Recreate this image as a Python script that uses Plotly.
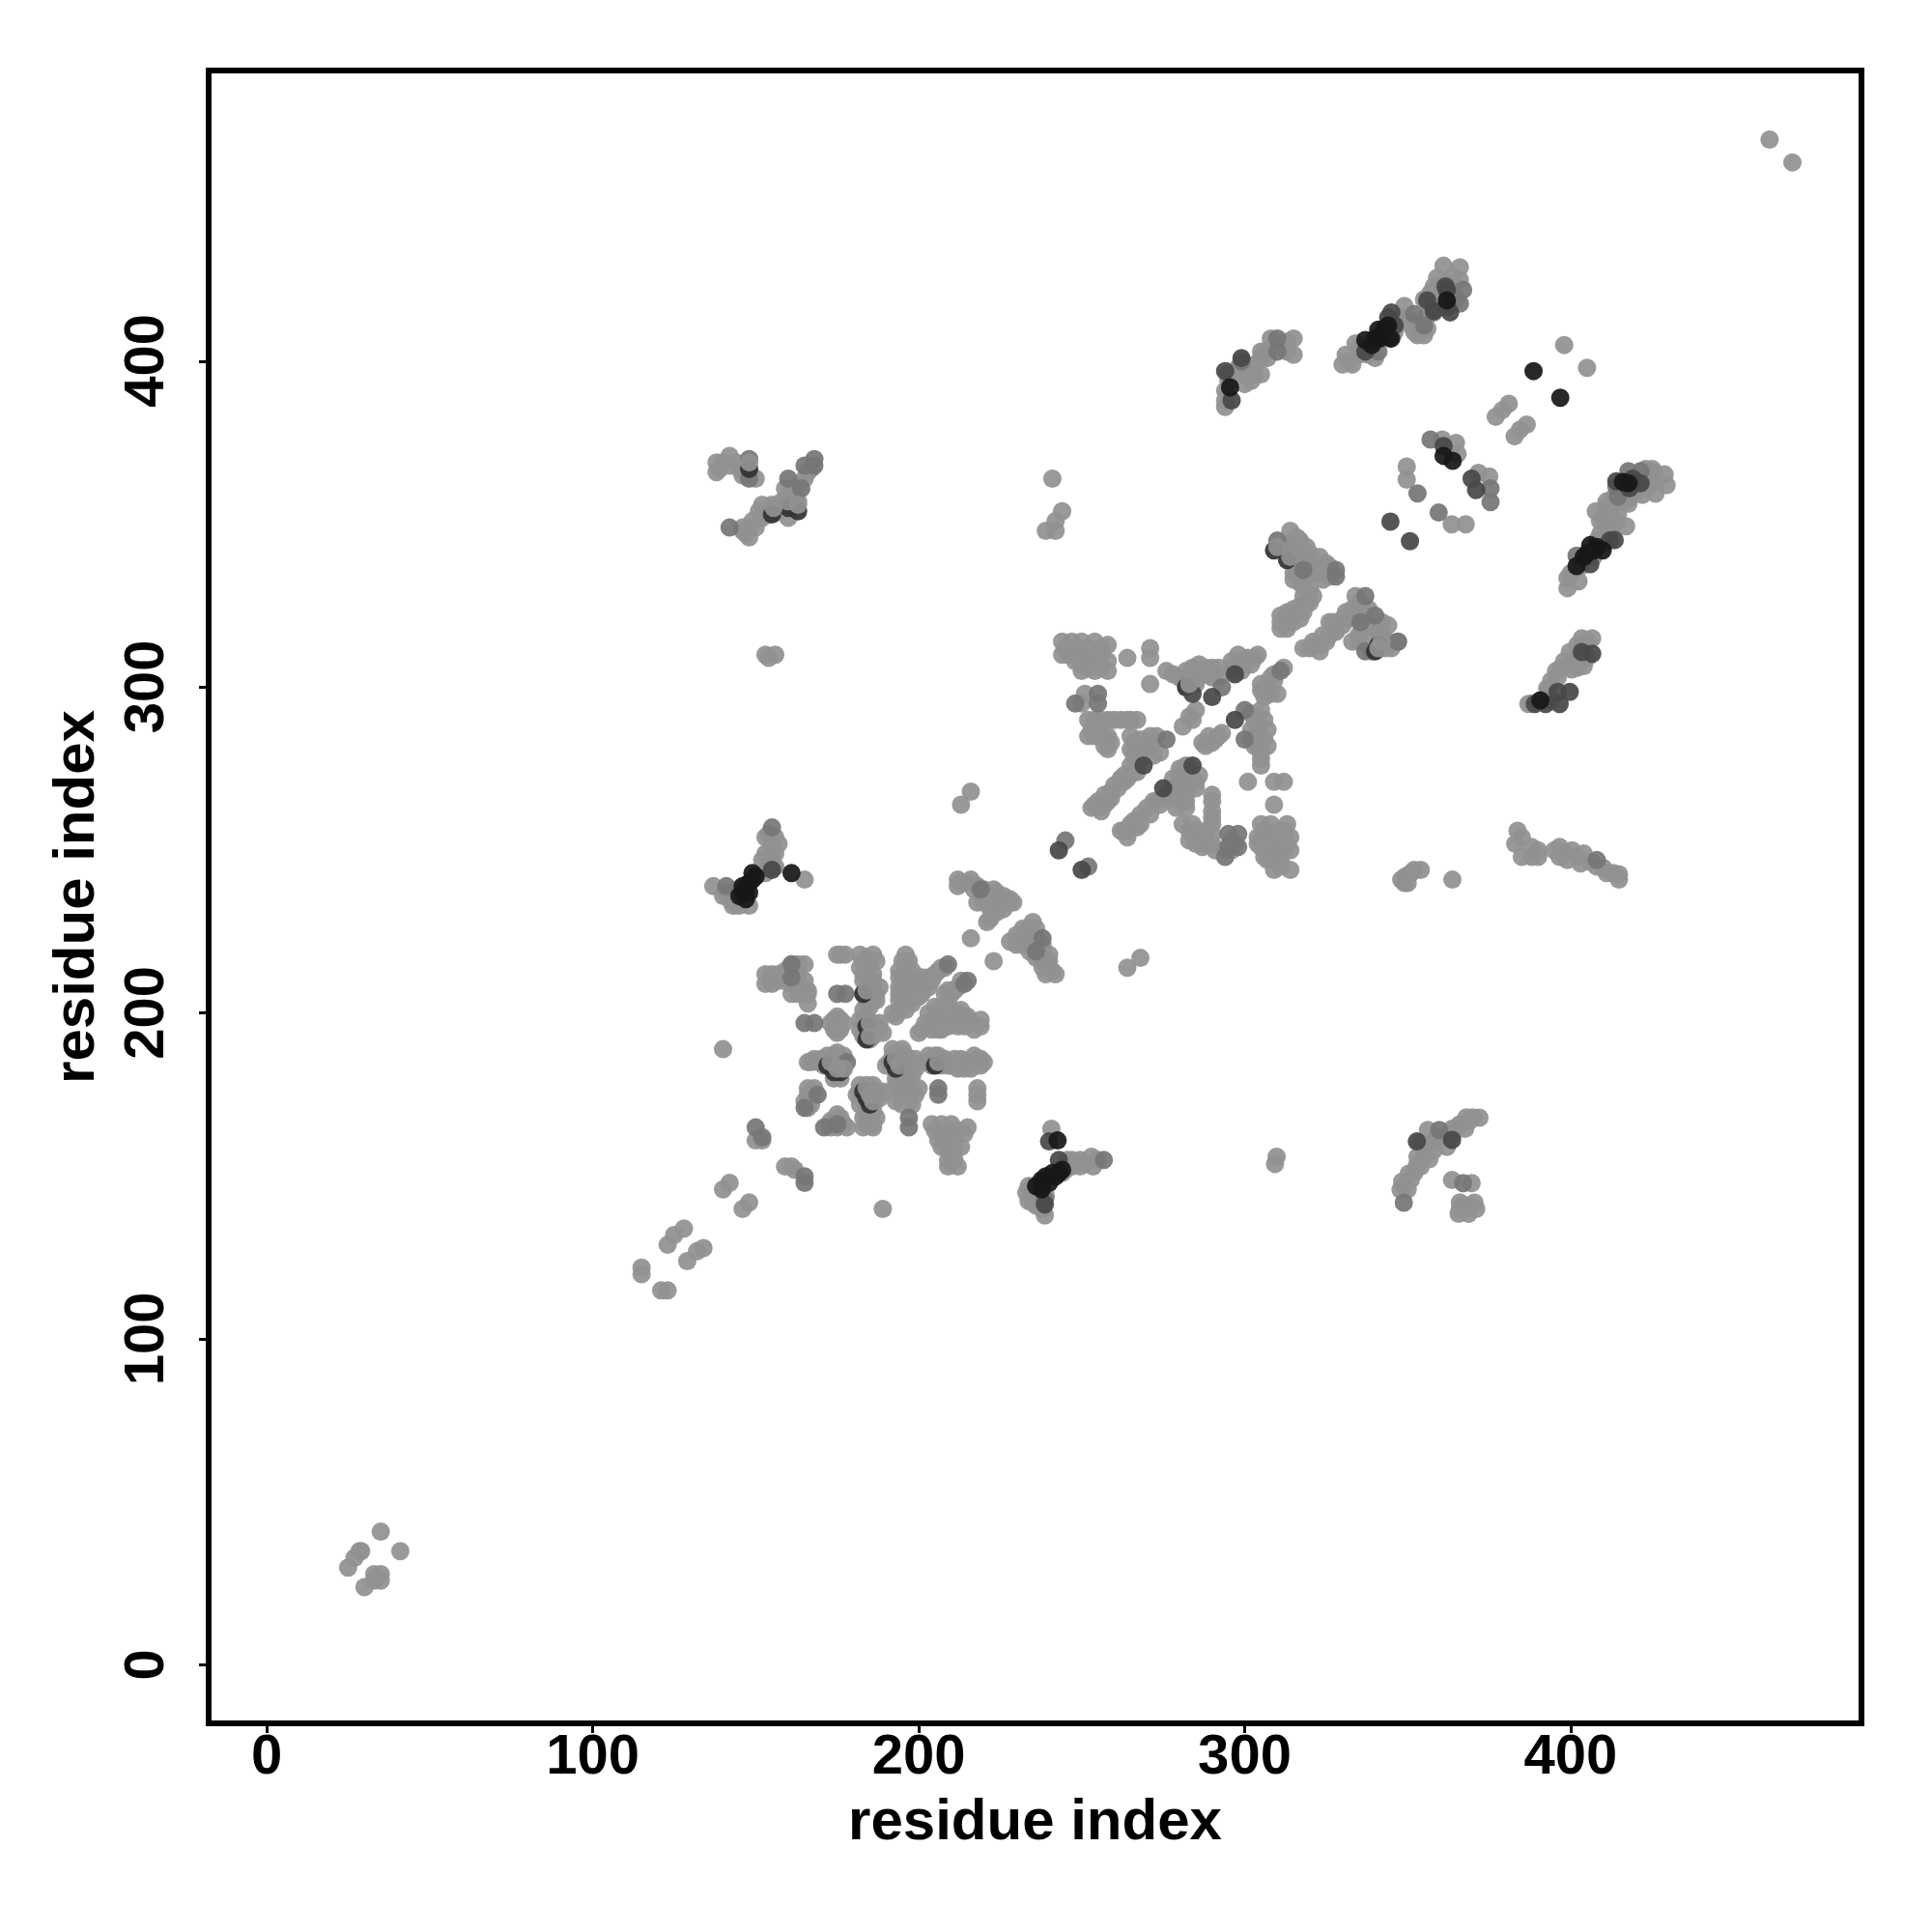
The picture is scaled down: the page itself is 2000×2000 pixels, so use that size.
import plotly.graph_objects as go

tick_values = [0, 100, 200, 300, 400]
axis_title = "residue index"

# residue pairs, grouped by shade of grey
under_dark = [
    (183,206),(184,196),(184,192),(172,184),(174,182),(176,182),(192,185),(193,183),(205,184),
    (183,176),(184,174),(185,172),(186,174),(309,342),(313,339),(340,311),(341,313),
    (155,353),(148,367),(160,355),(163,354),(282,300),
]
top_light = [
    (184,207),(185,197),(185,193),(173,185),(175,183),(177,183),(193,186),(194,184),(206,185),
    (184,177),(185,175),(186,173),(187,175),(310,343),(314,340),(341,312),(342,314),
    (155.5,355),(148,369),(160,357),(163,356),(283,301),
]
light = [
    (25,30),(27,33),(28.5,35),(29,35),(35,41),(41,35),(30,24),(33,26),(34,27),(35,28),(33,28),(35,26),
    (115,122),(115,120),(121,115),(123,115),(123,129),(125,132),(128,134),(129,124),(132,127),(134,128),
    (140,146),(142,148),(146,140),(148,142),(189,140),(140,189),
    (153,212),(153,209),(156,210),(158,210),(160,211),(161,215),(161,212),(161,209),(161,206),(165,215),
    (165,210),(166,207),(166,206),(166,203),
    (175,218),(177.5,218),(182,214),(184,217),(186,218),(182,218),(185,211),(184,208),(187,206),(184,203),(186,204),
    (196,218),(196,215),(195,212),(195,209),(196,206),(195,202),(193,199),(201,211),(203,211),(206,213),(199,208),(198,205),
    (174,198),(176,198),(174,195),(176,195),(182,198),(182,195),(185,192),(188,195),(185,195),
    (166,185),(169,185),(172,187),(175,188),(175,183),(175,181),(173,184),
    (166,177),(165,173),(175,169),(177,166),
    (181,175),(184,178),(183,174),(188,174),(189,176),(186,172),(184,166),(184,169),(186,166),
    (194,175),(197,175),(199,175),(197,178),(197,173),(218,177),(218,173),
    (191,185),(194,188),(193,185),(198,185),(196,187),(193,182),(198,181),
    (205,187),(204,184),(208,186),(211,186),(214,183),(218,186),(219,184),(202,185),
    (200,194),(204,198),(206,200),(209,204),(211,207),(204,195),(209,196),(213,198),(219,198),(219,196),(216,197),(207,202),(213,201),
    (204,166),(207,166),(210,166),(215,165),(206,161),(209,158),(209,153),(212,153),(209,155),
    (212,241),(212,239),(215,240),(218,239),(223,238),(228,235),(228,234),(221,228),(224,231),(220,234),(218,234),(216,223),(223,216),
    (235,228),(233,225),(228,222),(236,219),(240,218),(234,219),(238,214),(242,212),(231,222),(234,223),
    (150,161),(152,161),(159,153),(161,153),(162,152),
    (138,369),(138,366),(142,371),(142,368),(150,364),(146,348),(148,349),(149,351),(151,354),(155,356),(165,364),(160,359),(163,357),(148,346),
    (153,310),(156,310),(154,309),(241,364),(244,354),(242,351),(239,348),(242,348),
    (216,268),(213,264),(264,214),(268,217),
    (137,239),(142,235),(146,235),(153,254),(156,254),(153,249),(156,249),(165,241),
    (244,314),(244,310),(247,314),(250,314),(254,314),(258,313),(246,310),(250,310),(254,310),(258,308),(250,305),(254,305),(258,305),(255,308),(250,307),
    (264,309),(271,312),(271,309),(271,301),(276,305),(280,303),(284,306),(284,303),(290,306),(290,303),(298,310),(298,307),(300,307),(303,309),
    (285,293),(283,291),(281,288),(284,290),(251,298),(250,295),
    (252,290),(256,290),(262,290),(267,290),(264,290),(252,285),(256,285),(258,285),(258,281),(258,284),
    (265,285),(265,281),(271,285),(270,281),(274,280),(267,281),(265,276),(267,274),(264,272),(260,270),(257,267),(254,264),(256,262),(258,265),
    (280,275),(280,273),(285,271),(280,268),(280,265),(275,266),(270,263),(266,259),(262,256),(264,254),(267,257),
    (290,267),(290,262),(290,258),(290,252),(285,252),(284,255),(281,258),(284,258),
    (305,258),(305,251),(308,258),(313,258),(314,254),(314,250),(314,244),(309,244),(309,248),(308,253),(304,254),
    (301,271),(309,271),(312,271),(309,264),(305,276),(306,284),(305,280),(306,290),(305,293),(303,290),
    (290,283),(293,286),(288,282),(308,303),(306,300),(310,298),(307,298),
    (314,348),(315,344),(319,343),(315,339),(319,339),(315,333),(323,340),(323,337),(318,336),(324,333),
    (318,328),(321,328),(315,322),(311,322),(311,318),(315,324),
    (334,328),(330,321),(326,320),(321,314),(318,312),(323,311),(333,324),(333,314),(344,319),(341,318),(347,314),
    (330,399),(333,399),(334,405.5),(349,417),(348,413.4),(355,408),(353,408),(361,429.3),(366,428.8),(366,425),(359,425.6),(355,419),(359,418),
    (305,396),(306,403),(308,407),(315,407),(315,402),(305,401),(300,396),(300,393),(294,386),
    (398,405),(405,398),(381,387),(379,385),(377,383),(386.5,380.6),(384.4,379),(382.8,377),
    (349.7,367.7),(349.7,363.7),(363.5,350),(367.8,350),(364.8,375),(365.3,371.6),(360.6,376),(371.7,365.8),(375,364.7),
    (399,330.4),(399,333.5),(402.4,332.5),(417,349.4),(411,349.4),(407.7,354),(411,355.2),(414.5,353),(425.7,365.8),(428.8,365.3),(429.4,362),(426,359.4),(422,359),(417.7,356.3),
    (387,294.9),(392.8,299.7),(395.5,305),(399.7,310.8),(403.4,315),(406.6,315),(404,306.5),(400.3,305.5),
    (240.7,164.6),(245.6,155),(249.5,155),(249.5,153),(253,156),(253.5,153),
    (233.7,147),(233.7,142.4),(238.7,138),(235,144),
    (309.8,156),(309.3,153.8),
    (348.3,148.4),(347.8,145.9),(350.3,150.8),(352.8,153.3),(356.2,164.2),(356.7,155.3),(354,160.2),(363.6,164.6),(367.6,164.6),(370,168.1),(368,168.1),
    (363.6,148.9),(369.6,147.9),(370.5,141.9),(366,142),(365.6,138.5),(368.6,138.5),
    (383.7,256),(383,252),(388,251),(388,248),(396.6,251),(396.6,248),(400.4,250),(402,248),(406,246.5),(410,244.6),(414.8,242.7),(414.8,241),
    (348,241),(349.3,242),(351,243),(354,244),(363.7,241),(461,468),(468,461),
]
light_block_a = [
    (155,212),(157,212),(159,213),(163,215),(163,212),(163,209),(155,209),(158,212),(163,206),
    (176,218),(183,216),(185,216),(187,216),(183,212),(186,212),(183,210),(186,210),(186,208),(188,208),(183,206),(185,206),(185,204),(187,204),(185,202),(183,201),
    (195,216),(197,216),(194,213),(196,213),(198,213),(194,211),(196,211),(198,211),(194,208),(196,208),(198,208),(200,208),(194,206),(198,206),(194,204),(196,204),(198,203),(194,201),(196,201),(192,200),(200,209),(202,209),(204,210),(205,212),(207,214),(208,214),(203,208),(201,206),(200,205),
    (173,197),(177,197),(175,199),(175,194),(175,196),(183,197),(184,199),(186,197),(187,196),(186,193),(184,193),(183,193),(188,197),(189,194),
    (167,185),(168,186),(170,186),(171,184),(173,186),(174,187),(176,186),(177,187),(177,183),(176,184),(174,180),(176,180),(171,186),
    (166,175),(167,175),(168,177),(166,171),(167,172),(173,167),(174,167),(176,168),(173,165),(175,165),(178,165),
    (182,178),(186,178),(182,176),(185,176),(187,176),(188,176),(182,172),(184,171),(186,170),(183,168),(185,168),(187,168),(183,165),(186,165),(185,174),
    (194,177),(196,177),(198,177),(195,172),(198,172),(193,178),(193,173),(200,177),(196,174),(218,175),
    (190,184),(192,187),(192,189),(194,186),(195,184),(197,183),(199,183),(199,186),(195,189),(193,180),(195,180),(197,180),(196,182),
    (203,187),(206,187),(207,184),(209,184),(206,185),(210,184),(212,184),(213,186),(215,185),(216,183),(217,187),(219,186),(220,185),(212,183),
    (201,195),(202,197),(203,200),(205,202),(208,206),(209,207),(210,206),(212,208),(213,210),(203,196),(205,196),(206,197),(207,198),(208,199),(210,198),(211,199),(212,200),(214,199),(215,199),(217,195),(214,196),(212,196),(207,195),(206,195),(210,201),(208,201),
    (205,164),(209,164),(212,164),(214,163),(208,162),(211,162),(213,159),(207,159),(210,157),(208,160),(211,159),(210,154),(211,155),
    (213,240),(216,241),(217,238),(220,238),(222,236),(224,237),(226,236),(226,234),(226,232),(222,232),(224,234),(222,229),(220,236),(221,236),(229,234),
    (232,226),(230,224),(234,226),(236,226),(230,221),(232,221),(235,222),(236,224),(232,223),(238,221),(236,217),(238,219),(240,216),(238,216),(240,214),(241,213),(239,212),(234,221),
]
light_block_b = [
    (245,312),(249,312),(252,312),(256,312),(248,308),(252,308),(256,310),(252,306),(256,306),(249,309),
    (278,304),(282,305),(282,302),(286,307),(287,305),(288,304),(292,303),(285,301),(284,301),(286,304),(288,306),(292,306),(299,308),(296,306),(296,308),(297,305),(301,309),(302,307),(304,310),(299,305),
    (254,290),(258,290),(260,290),(265,290),(253,287),(254,285),(259,283),(257,282),(266,283),(268,284),(269,282),(272,283),(273,285),(266,279),(272,279),(268,278),
    (262,272),(259,268),(261,269),(263,271),(255,265),(253,263),(255,263),(257,264),(259,266),(266,274),(263,273),
    (282,276),(283,274),(278,272),(282,270),(283,272),(277,268),(278,266),(273,265),(272,265),(268,261),(265,258),(263,256),(264,256),(268,258),(271,261),(274,264),(278,269),(276,267),(281,270),(283,270),(286,273),(285,269),(282,267),(282,265),(282,263),(279,263),
    (290,265),(290,260),(290,255),(288,252),(287,251),(291,250),(286,254),(283,256),(285,256),(288,256),(283,253),
    (296,253),(297,252),(294,250),(296,250),
    (306,256),(306,254),(310,256),(312,256),(304,252),(307,250),(311,252),(312,250),(311,247),(307,247),(311,245),(310,250),(306,248),(306,252),(313,252),
    (304,291),(302,292),(304,288),(307,287),(304,286),(302,287),(303,282),(302,284),(304,282),(307,282),(305,278),
    (289,285),(291,284),(292,285),(287,283),(309,304),(309,302),(308,298),(305,299),(306,297),(305,301),(312,306),
    (311,343),(313,344),(316,346),(317,342),(317,345),(314,341),(316,338),(318,341),(320,341),(321,338),(316,335),(320,336),(322,335),(319,334),(325,338),(326,336),(326,334),(326,337),(324,335),(317,332),(315,335),(318,331),
    (320,330),(319,326),(317,325),(317,323),(313,323),(313,321),(313,318),(315,320),(317,321),(311,320),(320,326),(318,323),
    (335,326),(336,325),(331,323),(332,321),(330,319),(328,318),(327,320),(324,316),(326,316),(323,313),(320,312),(322,313),(325,314),(328,317),(334,321),(335,321),(336,318),(335,316),(335,314),(338,319),(340,318),(342,316),(339,314),(339,311),(343,315),(345,312),(343,312),(342,320),(338,324),
]
light_block_c = [
    (294,388),(294,391),(295,394),(295,396),(298,398),(300,399),(302,394),(303,396),(303,399),(305,403),(308,404),(307,401),(313,406),(313,403),
    (332,400),(331,402),(335,402),(335,404),(338,402),(340,401),(346,409),(350,413),(351,411),(353,411),(352,409),(354,409),(356,410),(354,412),(356,414),(357,416),(358,418),(357,421),(359,422),(360,420),(362,424),(364,426),(358,423),(364,421),(365,419),(361,419),
    (400,335),(403,337),(404,339),(405,341),(407,340),(408,345),(410,344),(409,347),(411,346),(412,348),(413,350),(414,351),(410,352),(409,351),(412,351),(412,353),(413,356),(411,357),(413,358),(415,360),(416,357),(418,358),(420,360),(419,364),(423,361),(424,363),(426,363),(425,367),(423,367),
    (388,295),(391,296),(394,296),(393,299),(394,302),(396,303),(397,306),(398,308),(401,308),(402,313),(404,312),(405,314),(402,306),(403,308),(405,309),
    (233,145),(235,147),(236,141),(238,140),(239,144),(235,142),(237,144),(244,151),(245,152),(246,154),(247,155),(247,153),(251,154),(255,155),
    (349,147),(350,146),(351,149),(352,151),(354,153),(355,156),(353,156),(355,158),(357,160),(358,158),(359,162),(361,162),(362,159),(364,163),(365,165),(366,166),(369,167),(372,168),(367,141),(369,141),(366,140),(368,140),(371,140),
    (140,236),(143,236),(144,238),(141,237),(143,233),(145,233),(148,233),(144,234),(147,236),(155,251),(154,246),(157,252),(154,255),(155,247),(152,247),(153,243),(156,245),
    (146,349),(147,347),(150,349),(152,352),(154,353),(157,354),(158,356),(160,352),(161,356),(162,359),(158,357),(159,361),(163,362),(166,366),(167,367),(139,367),(140,369),(144,369),(145,367),(146,365),(152,356),
    (385,254),(385,248),(390,250),(390,248),(398,249),(399,247),(403,246),(404,249),(408,245),(411,243),(413,243),(395,250),(349,240),(350,240),(352,244),
]
mid = [
    (175,206),(177.5,206),(165,197),(168,197),(178,185),(169,175),(165,171),(171,165),(175,166),
    (206,177),(206,175),(197,168),(197,165),(209,215),(215,210),(214,209),(219,238),(238,223),(161,211),(161,215),(236,219),
    (150,165),(152,162),(165,150),(165,148),(148,370),(148,364),(142,349),(164,361),(165,368),(168,370),(168,368),(160,364),
    (141,239),(155,257),(245,253),(252,245),
    (293,300),(255,298),(255,295),(248,295),(276,284),(295,255),(298,255),(294,248),(298,251),(295,251),
    (300,293),(300,284),(311,305),(310,345),(328,336),(328,334),(335.5,320),(318,336),
    (337,328),(340,322),(337,311),(347,314),
    (341,403),(352,414.5),(355,411),(366,417.7),(367,421.9),(358,415),(310,403),(310,407),(299,400),
    (353,359.5),(359.5,353.6),(357,376),(375.4,361),(375.4,356.8),
    (401.8,340.4),(414,361.6),(414.5,358.4),(417.7,366.3),(421.4,366.3),(256.8,155),(238.7,143),
    (348.8,141.9),(359.7,164.2),(367,147.9),(408,247),
]
dark = [
    (284,298),(297,304),(290,297),(297,290),(275,269),(269,276),(284,276),(243,250),(250,244),
    (296,388),(294,397),(299,401),(344,413.4),(345,407),(362,416.6),(362,421.9),(363,415),(337,403),
    (345,415),(346,411),(361.6,423),(358,415.5),(356,418.7),
    (344.7,350.8),(350.7,344.8),(361,374),(369.6,364),(371,360.5),
    (406,337.8),(413.5,345.2),(421.4,362.6),(414,363.2),(412,345),(419,364),(418,361),
    (389,294.9),(392.3,294.9),(396.6,294.9),(396,298.6),(399.7,298.6),(403.4,310.8),(406.6,310.3),
    (240,160.7),(243,155),(238.7,141.4),(352.8,160.7),(363.6,161.2),(155,244),(147,239),
]
black = [
    (337,406.5),(339,405),(340,407),(341,409.7),(341.5,407),(342,408),(343,410),(344.7,407),(344,411),(388.6,397),(396.8,388.8),
    (295.5,392),(362,418.7),(390.7,296),
    (361,371),(363.8,369.5),(401.8,337.2),(404,340),(405,341),(406,343.6),(407,342),(408,343),(409.8,342),(417.7,362.6),(416,363),
    (242.6,161),(237.7,148.9),(239,150),(240,148),(241,151),(236,147),(237.7,146),(242,150),(244,152),(238,147),(243,151),
    (145,236),(146,237),(147,238),(148,240),(149,241),(150,242),(149,243),(161,243),(146,239),(147,235),(148,237),
]

layers = [
    ("light", light + light_block_a + light_block_b + light_block_c, "rgb(145,145,145)"),
    ("mid", mid, "rgb(118,118,118)"),
    ("under", under_dark, "rgb(50,50,50)"),
    ("dark", dark, "rgb(72,72,72)"),
    ("black", black, "rgb(24,24,24)"),
    ("top", top_light, "rgb(145,145,145)"),
]

fig = go.Figure()
for name, pts, colour in layers:
    fig.add_trace(go.Scatter(
        x=[p[0] for p in pts], y=[p[1] for p in pts], mode="markers", name=name,
        marker=dict(size=19, color=colour, opacity=0.93, line=dict(width=0)),
        showlegend=False,
    ))

tick_font = dict(family="Liberation Sans", size=58, color="black", weight="bold")
title_font = dict(family="Liberation Sans", size=60, color="black", weight="bold")
axis = dict(
    tickmode="array", tickvals=tick_values, ticktext=[str(v) for v in tick_values],
    showgrid=False, zeroline=False, showline=True, mirror=True, linecolor="black", linewidth=6,
    ticks="outside", ticklen=7, tickwidth=3, tickcolor="black", tickfont=tick_font,
)
fig.update_xaxes(**axis, range=[-16.9, 488.3], ticklabelstandoff=-28,
                 title=dict(text=axis_title, font=title_font, standoff=17))
fig.update_yaxes(**axis, range=[-16.9, 488.3], tickangle=-90, ticklabelstandoff=14, ticklabelshift=8,
                 title=dict(text=axis_title, font=title_font, standoff=1))
fig.update_layout(
    width=2000, height=2000, autosize=False, paper_bgcolor="white", plot_bgcolor="white",
    margin=dict(l=219, r=76, t=76, b=219, pad=0),
)
fig.write_html("out.html", config=dict(displayModeBar=False), post_script="document.body.style.margin='0';")
